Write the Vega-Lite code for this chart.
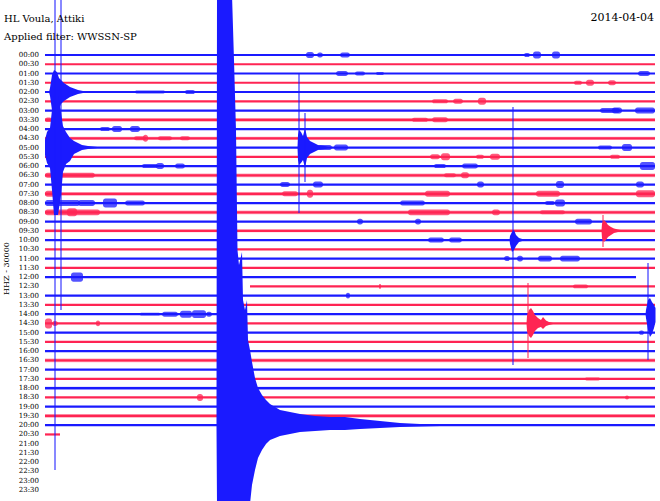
{
  "$schema": "https://vega.github.io/schema/vega-lite/v6.json",
  "width": 660,
  "height": 501,
  "autosize": {"type": "fit", "contains": "padding"},
  "padding": 0,
  "background": "white",
  "config": {"view": {"stroke": null}},
  "datasets": {
    "labels": [
      {"t":0,"lab":"00:00"},{"t":1,"lab":"00:30"},{"t":2,"lab":"01:00"},{"t":3,"lab":"01:30"},
      {"t":4,"lab":"02:00"},{"t":5,"lab":"02:30"},{"t":6,"lab":"03:00"},{"t":7,"lab":"03:30"},
      {"t":8,"lab":"04:00"},{"t":9,"lab":"04:30"},{"t":10,"lab":"05:00"},{"t":11,"lab":"05:30"},
      {"t":12,"lab":"06:00"},{"t":13,"lab":"06:30"},{"t":14,"lab":"07:00"},{"t":15,"lab":"07:30"},
      {"t":16,"lab":"08:00"},{"t":17,"lab":"08:30"},{"t":18,"lab":"09:00"},{"t":19,"lab":"09:30"},
      {"t":20,"lab":"10:00"},{"t":21,"lab":"10:30"},{"t":22,"lab":"11:00"},{"t":23,"lab":"11:30"},
      {"t":24,"lab":"12:00"},{"t":25,"lab":"12:30"},{"t":26,"lab":"13:00"},{"t":27,"lab":"13:30"},
      {"t":28,"lab":"14:00"},{"t":29,"lab":"14:30"},{"t":30,"lab":"15:00"},{"t":31,"lab":"15:30"},
      {"t":32,"lab":"16:00"},{"t":33,"lab":"16:30"},{"t":34,"lab":"17:00"},{"t":35,"lab":"17:30"},
      {"t":36,"lab":"18:00"},{"t":37,"lab":"18:30"},{"t":38,"lab":"19:00"},{"t":39,"lab":"19:30"},
      {"t":40,"lab":"20:00"},{"t":41,"lab":"20:30"},{"t":42,"lab":"21:00"},{"t":43,"lab":"21:30"},
      {"t":44,"lab":"22:00"},{"t":45,"lab":"22:30"},{"t":46,"lab":"23:00"},{"t":47,"lab":"23:30"}
    ],
    "lines": [
      {"t":0,"c":"b","x0":0,"x1":30},{"t":1,"c":"r","x0":0,"x1":30},{"t":2,"c":"b","x0":0,"x1":30},
      {"t":3,"c":"r","x0":0,"x1":30},{"t":4,"c":"b","x0":0,"x1":30},{"t":5,"c":"r","x0":0,"x1":30},
      {"t":6,"c":"b","x0":0,"x1":30},{"t":7,"c":"r","x0":0,"x1":30},{"t":8,"c":"b","x0":0,"x1":30},
      {"t":9,"c":"r","x0":0,"x1":30},{"t":10,"c":"b","x0":0,"x1":30},{"t":11,"c":"r","x0":0,"x1":30},
      {"t":12,"c":"b","x0":0,"x1":30},{"t":13,"c":"r","x0":0,"x1":30},{"t":14,"c":"b","x0":0,"x1":30},
      {"t":15,"c":"r","x0":0,"x1":30},{"t":16,"c":"b","x0":0,"x1":30},{"t":17,"c":"r","x0":0,"x1":30},
      {"t":18,"c":"b","x0":0,"x1":30},{"t":19,"c":"r","x0":0,"x1":30},{"t":20,"c":"b","x0":0,"x1":30},
      {"t":21,"c":"r","x0":0,"x1":30},{"t":22,"c":"b","x0":0,"x1":30},{"t":23,"c":"r","x0":0,"x1":30},
      {"t":24,"c":"b","x0":0,"x1":29.066},{"t":25,"c":"r","x0":10.082,"x1":30},{"t":26,"c":"b","x0":0,"x1":30},
      {"t":27,"c":"r","x0":0,"x1":30},{"t":28,"c":"b","x0":0,"x1":30},{"t":29,"c":"r","x0":0,"x1":30},
      {"t":30,"c":"b","x0":0,"x1":30},{"t":31,"c":"r","x0":0,"x1":30},{"t":32,"c":"b","x0":0,"x1":30},
      {"t":33,"c":"r","x0":0,"x1":30},{"t":34,"c":"b","x0":0,"x1":30},{"t":35,"c":"r","x0":0,"x1":30},
      {"t":36,"c":"b","x0":0,"x1":30},{"t":37,"c":"r","x0":0,"x1":30},{"t":38,"c":"b","x0":0,"x1":30},
      {"t":39,"c":"r","x0":0,"x1":30},{"t":40,"c":"b","x0":0,"x1":30},{"t":41,"c":"r","x0":0,"x1":0.738}
    ],
    "noise": [
      {"c":"r","x0":0,"x1":30,"lo":6.8,"hi":7.2},
      {"c":"r","x0":0,"x1":30,"lo":8.84,"hi":9.16},
      {"c":"r","x0":0,"x1":30,"lo":12.8,"hi":13.2},
      {"c":"r","x0":0,"x1":30,"lo":14.8,"hi":15.2},
      {"c":"r","x0":0,"x1":30,"lo":16.8,"hi":17.2},
      {"c":"r","x0":0,"x1":30,"lo":18.84,"hi":19.16},
      {"c":"r","x0":0,"x1":30,"lo":32.8,"hi":33.2},
      {"c":"b","x0":0,"x1":30,"lo":35.84,"hi":36.16},
      {"c":"r","x0":0,"x1":30,"lo":38.8,"hi":39.2}
    ],
    "bursts": [
      {"c":"b","x0":12.836,"x1":13.23,"lo":-0.32,"hi":0.32},{"c":"b","x0":13.377,"x1":13.672,"lo":-0.27,"hi":0.27},
      {"c":"b","x0":14.508,"x1":15.0,"lo":-0.27,"hi":0.27},{"c":"b","x0":23.557,"x1":23.852,"lo":-0.22,"hi":0.22},
      {"c":"b","x0":24.0,"x1":24.393,"lo":-0.38,"hi":0.38},{"c":"b","x0":24.934,"x1":25.328,"lo":-0.38,"hi":0.38},
      {"c":"b","x0":14.311,"x1":14.902,"lo":1.73,"hi":2.27},{"c":"b","x0":15.246,"x1":15.738,"lo":1.78,"hi":2.22},
      {"c":"b","x0":16.279,"x1":16.672,"lo":1.84,"hi":2.16},{"c":"b","x0":29.164,"x1":29.754,"lo":1.73,"hi":2.27},
      {"c":"r","x0":26.016,"x1":26.41,"lo":2.78,"hi":3.22},{"c":"r","x0":26.607,"x1":27.0,"lo":2.68,"hi":3.32},
      {"c":"r","x0":27.688,"x1":28.082,"lo":2.73,"hi":3.27},
      {"c":"b","x0":4.426,"x1":5.902,"lo":3.84,"hi":4.16},{"c":"b","x0":6.885,"x1":7.377,"lo":3.78,"hi":4.22},
      {"c":"r","x0":19.033,"x1":19.82,"lo":4.78,"hi":5.22},{"c":"r","x0":20.066,"x1":20.557,"lo":4.73,"hi":5.27},
      {"c":"r","x0":21.295,"x1":21.689,"lo":4.62,"hi":5.38},
      {"c":"b","x0":27.295,"x1":28.279,"lo":5.73,"hi":6.27},{"c":"b","x0":27.885,"x1":28.377,"lo":5.68,"hi":6.32},
      {"c":"b","x0":29.016,"x1":30.0,"lo":5.68,"hi":6.32},
      {"c":"r","x0":0,"x1":0.35,"lo":6.75,"hi":7.25},{"c":"r","x0":18.049,"x1":18.836,"lo":6.78,"hi":7.22},
      {"c":"r","x0":19.033,"x1":19.82,"lo":6.73,"hi":7.27},
      {"c":"b","x0":2.705,"x1":3.197,"lo":7.78,"hi":8.22},{"c":"b","x0":3.295,"x1":3.787,"lo":7.68,"hi":8.32},
      {"c":"b","x0":4.18,"x1":4.672,"lo":7.68,"hi":8.32},
      {"c":"r","x0":4.377,"x1":4.967,"lo":8.78,"hi":9.22},{"c":"r","x0":4.82,"x1":5.066,"lo":8.62,"hi":9.38},
      {"c":"r","x0":5.557,"x1":6.246,"lo":8.78,"hi":9.22},{"c":"r","x0":6.639,"x1":7.131,"lo":8.78,"hi":9.22},
      {"c":"b","x0":13.426,"x1":14.115,"lo":9.73,"hi":10.27},{"c":"b","x0":14.213,"x1":14.902,"lo":9.68,"hi":10.32},
      {"c":"b","x0":27.197,"x1":27.885,"lo":9.78,"hi":10.22},{"c":"b","x0":28.377,"x1":28.869,"lo":9.62,"hi":10.38},
      {"c":"r","x0":18.934,"x1":19.426,"lo":10.73,"hi":11.27},{"c":"r","x0":19.475,"x1":19.918,"lo":10.62,"hi":11.38},
      {"c":"r","x0":21.197,"x1":21.59,"lo":10.78,"hi":11.22},{"c":"r","x0":21.885,"x1":22.377,"lo":10.68,"hi":11.32},
      {"c":"r","x0":27.787,"x1":28.279,"lo":10.78,"hi":11.22},
      {"c":"b","x0":4.77,"x1":5.557,"lo":11.78,"hi":12.22},{"c":"b","x0":5.459,"x1":5.852,"lo":11.68,"hi":12.32},
      {"c":"b","x0":6.393,"x1":6.885,"lo":11.73,"hi":12.27},{"c":"b","x0":19.131,"x1":19.721,"lo":11.78,"hi":12.22},
      {"c":"b","x0":20.508,"x1":21.295,"lo":11.73,"hi":12.27},{"c":"b","x0":29.262,"x1":30.0,"lo":11.57,"hi":12.43},
      {"c":"r","x0":0,"x1":2.459,"lo":12.73,"hi":13.27},{"c":"r","x0":19.623,"x1":20.213,"lo":12.78,"hi":13.22},
      {"c":"r","x0":20.459,"x1":20.852,"lo":12.68,"hi":13.32},
      {"c":"b","x0":11.557,"x1":12.049,"lo":13.73,"hi":14.27},{"c":"b","x0":13.18,"x1":13.672,"lo":13.68,"hi":14.32},
      {"c":"b","x0":21.246,"x1":21.59,"lo":13.68,"hi":14.32},{"c":"b","x0":25.131,"x1":25.525,"lo":13.62,"hi":14.38},
      {"c":"b","x0":29.066,"x1":29.459,"lo":13.68,"hi":14.32},
      {"c":"r","x0":0,"x1":0.738,"lo":14.68,"hi":15.32},{"c":"r","x0":11.656,"x1":12.443,"lo":14.73,"hi":15.27},
      {"c":"r","x0":12.885,"x1":13.18,"lo":14.57,"hi":15.43},{"c":"r","x0":18.689,"x1":19.918,"lo":14.68,"hi":15.32},
      {"c":"r","x0":24.148,"x1":25.328,"lo":14.68,"hi":15.32},{"c":"r","x0":29.066,"x1":30.0,"lo":14.62,"hi":15.38},
      {"c":"b","x0":0,"x1":1.721,"lo":15.68,"hi":16.32},{"c":"b","x0":1.623,"x1":2.459,"lo":15.68,"hi":16.32},
      {"c":"b","x0":2.852,"x1":3.541,"lo":15.51,"hi":16.49},{"c":"b","x0":3.934,"x1":4.918,"lo":15.73,"hi":16.27},
      {"c":"b","x0":17.459,"x1":18.689,"lo":15.73,"hi":16.27},{"c":"b","x0":24.59,"x1":25.082,"lo":15.78,"hi":16.22},
      {"c":"b","x0":25.082,"x1":25.574,"lo":15.62,"hi":16.38},
      {"c":"r","x0":0,"x1":2.705,"lo":16.68,"hi":17.32},{"c":"r","x0":1.082,"x1":1.574,"lo":16.57,"hi":17.43},
      {"c":"r","x0":17.852,"x1":19.918,"lo":16.68,"hi":17.32},{"c":"r","x0":21.984,"x1":22.377,"lo":16.68,"hi":17.32},
      {"c":"r","x0":24.344,"x1":25.574,"lo":16.78,"hi":17.22},
      {"c":"b","x0":15.344,"x1":15.639,"lo":17.68,"hi":18.32},{"c":"b","x0":18.197,"x1":18.492,"lo":17.68,"hi":18.32},
      {"c":"b","x0":26.066,"x1":26.902,"lo":17.68,"hi":18.32},
      {"c":"b","x0":18.836,"x1":19.623,"lo":19.73,"hi":20.27},{"c":"b","x0":19.869,"x1":20.508,"lo":19.73,"hi":20.27},
      {"c":"b","x0":22.574,"x1":22.869,"lo":21.73,"hi":22.27},{"c":"b","x0":23.213,"x1":23.508,"lo":21.68,"hi":22.32},
      {"c":"b","x0":24.246,"x1":24.934,"lo":21.68,"hi":22.32},{"c":"b","x0":25.328,"x1":26.311,"lo":21.68,"hi":22.32},
      {"c":"b","x0":1.279,"x1":1.869,"lo":23.51,"hi":24.49},
      {"c":"r","x0":16.426,"x1":16.525,"lo":24.73,"hi":25.27},{"c":"r","x0":25.967,"x1":26.705,"lo":24.8,"hi":25.2},
      {"c":"b","x0":14.803,"x1":15.0,"lo":25.68,"hi":26.32},
      {"c":"b","x0":4.672,"x1":5.656,"lo":27.84,"hi":28.16},{"c":"b","x0":5.754,"x1":6.541,"lo":27.73,"hi":28.27},
      {"c":"b","x0":6.639,"x1":7.23,"lo":27.62,"hi":28.38},{"c":"b","x0":7.23,"x1":7.918,"lo":27.57,"hi":28.43},
      {"c":"b","x0":7.918,"x1":8.213,"lo":27.73,"hi":28.27},
      {"c":"r","x0":0,"x1":0.344,"lo":28.46,"hi":29.54},{"c":"r","x0":0.344,"x1":0.639,"lo":28.73,"hi":29.27},
      {"c":"r","x0":2.508,"x1":2.705,"lo":28.68,"hi":29.32},
      {"c":"b","x0":29.213,"x1":29.459,"lo":29.78,"hi":30.22},
      {"c":"r","x0":26.557,"x1":27.295,"lo":34.84,"hi":35.16},
      {"c":"r","x0":7.475,"x1":7.77,"lo":36.62,"hi":37.38},{"c":"r","x0":28.525,"x1":28.721,"lo":36.78,"hi":37.22}
    ],
    "quakes": [
      {"q":"A","c":"b","x":8.434,"lo":40,"hi":40},{"q":"A","c":"b","x":8.459,"lo":-6.5,"hi":48.5},
      {"q":"A","c":"b","x":9.197,"lo":-6.5,"hi":48.5},{"q":"A","c":"b","x":9.295,"lo":0.54,"hi":48.5},
      {"q":"A","c":"b","x":9.393,"lo":8.1,"hi":48.5},{"q":"A","c":"b","x":9.467,"lo":21.07,"hi":48.5},
      {"q":"A","c":"b","x":9.541,"lo":22.69,"hi":48.5},{"q":"A","c":"b","x":9.689,"lo":21.29,"hi":48.5},
      {"q":"A","c":"b","x":9.738,"lo":26.47,"hi":48.5},{"q":"A","c":"b","x":9.836,"lo":27.55,"hi":48.5},
      {"q":"A","c":"b","x":9.934,"lo":26.47,"hi":48.5},{"q":"A","c":"b","x":9.984,"lo":30.79,"hi":48.5},
      {"q":"A","c":"b","x":10.082,"lo":31.87,"hi":48.5},{"q":"A","c":"b","x":10.18,"lo":33.17,"hi":46.46},
      {"q":"A","c":"b","x":10.328,"lo":34.9,"hi":44.84},{"q":"A","c":"b","x":10.475,"lo":35.98,"hi":43.54},
      {"q":"A","c":"b","x":10.672,"lo":36.74,"hi":42.68},{"q":"A","c":"b","x":10.869,"lo":37.28,"hi":42.03},
      {"q":"A","c":"b","x":11.066,"lo":37.71,"hi":41.6},{"q":"A","c":"b","x":11.312,"lo":38.03,"hi":41.38},
      {"q":"A","c":"b","x":11.557,"lo":38.36,"hi":41.17},{"q":"A","c":"b","x":12.049,"lo":38.57,"hi":40.95},
      {"q":"A","c":"b","x":12.541,"lo":38.79,"hi":40.73},{"q":"A","c":"b","x":13.279,"lo":39.01,"hi":40.63},
      {"q":"A","c":"b","x":14.016,"lo":39.11,"hi":40.52},{"q":"A","c":"b","x":14.754,"lo":39.11,"hi":40.52},
      {"q":"A","c":"b","x":15.492,"lo":39.33,"hi":40.41},{"q":"A","c":"b","x":16.475,"lo":39.55,"hi":40.3},
      {"q":"A","c":"b","x":17.459,"lo":39.76,"hi":40.19},{"q":"A","c":"b","x":18.443,"lo":39.87,"hi":40.14},
      {"q":"A","c":"b","x":19.426,"lo":39.92,"hi":40.09},
      {"q":"B","c":"b","x":0.197,"lo":4,"hi":4},{"q":"B","c":"b","x":0.246,"lo":3.57,"hi":4.43},
      {"q":"B","c":"b","x":0.344,"lo":2.16,"hi":5.94},{"q":"B","c":"b","x":0.443,"lo":1.62,"hi":7.89},
      {"q":"B","c":"b","x":0.59,"lo":1.84,"hi":7.89},{"q":"B","c":"b","x":0.689,"lo":2.49,"hi":5.94},
      {"q":"B","c":"b","x":0.787,"lo":2.7,"hi":5.29},{"q":"B","c":"b","x":0.934,"lo":3.03,"hi":4.97},
      {"q":"B","c":"b","x":1.082,"lo":3.24,"hi":4.75},{"q":"B","c":"b","x":1.23,"lo":3.46,"hi":4.54},
      {"q":"B","c":"b","x":1.426,"lo":3.62,"hi":4.38},{"q":"B","c":"b","x":1.623,"lo":3.78,"hi":4.21},
      {"q":"B","c":"b","x":1.869,"lo":3.89,"hi":4.11},{"q":"B","c":"b","x":2.213,"lo":3.94,"hi":4.05},
      {"q":"B","c":"b","x":2.5,"lo":4,"hi":4},
      {"q":"C","c":"b","x":0,"lo":9.18,"hi":10.8},{"q":"C","c":"b","x":0.098,"lo":8.32,"hi":11.67},
      {"q":"C","c":"b","x":0.246,"lo":7.89,"hi":12.21},{"q":"C","c":"b","x":0.344,"lo":5.94,"hi":14.59},
      {"q":"C","c":"b","x":0.443,"lo":4.32,"hi":17.29},{"q":"C","c":"b","x":0.639,"lo":4.32,"hi":17.29},
      {"q":"C","c":"b","x":0.787,"lo":6.16,"hi":15.13},{"q":"C","c":"b","x":0.885,"lo":7.67,"hi":12.64},
      {"q":"C","c":"b","x":1.033,"lo":8.32,"hi":11.78},{"q":"C","c":"b","x":1.23,"lo":8.97,"hi":11.45},
      {"q":"C","c":"b","x":1.426,"lo":9.29,"hi":10.7},{"q":"C","c":"b","x":1.623,"lo":9.51,"hi":10.48},
      {"q":"C","c":"b","x":1.82,"lo":9.72,"hi":10.26},{"q":"C","c":"b","x":2.115,"lo":9.83,"hi":10.16},
      {"q":"C","c":"b","x":2.459,"lo":9.92,"hi":10.08},{"q":"C","c":"b","x":2.8,"lo":10,"hi":10},
      {"q":"D","c":"b","x":12.418,"lo":10,"hi":10},{"q":"D","c":"b","x":12.443,"lo":8.64,"hi":11.35},
      {"q":"D","c":"b","x":12.492,"lo":8.1,"hi":11.89},{"q":"D","c":"b","x":12.59,"lo":8.32,"hi":11.67},
      {"q":"D","c":"b","x":12.689,"lo":8.75,"hi":11.35},{"q":"D","c":"b","x":12.787,"lo":7.89,"hi":12.21},
      {"q":"D","c":"b","x":12.885,"lo":8.86,"hi":11.13},{"q":"D","c":"b","x":13.033,"lo":9.29,"hi":10.7},
      {"q":"D","c":"b","x":13.23,"lo":9.51,"hi":10.48},{"q":"D","c":"b","x":13.426,"lo":9.72,"hi":10.26},
      {"q":"D","c":"b","x":13.77,"lo":9.83,"hi":10.16},{"q":"D","c":"b","x":14.0,"lo":10,"hi":10},
      {"q":"E","c":"r","x":27.369,"lo":19,"hi":19},{"q":"E","c":"r","x":27.393,"lo":18.26,"hi":19.77},
      {"q":"E","c":"r","x":27.492,"lo":17.83,"hi":20.2},{"q":"E","c":"r","x":27.59,"lo":18.04,"hi":19.99},
      {"q":"E","c":"r","x":27.689,"lo":18.37,"hi":19.66},{"q":"E","c":"r","x":27.836,"lo":18.58,"hi":19.45},
      {"q":"E","c":"r","x":27.984,"lo":18.75,"hi":19.23},{"q":"E","c":"r","x":28.18,"lo":18.85,"hi":19.12},
      {"q":"E","c":"r","x":28.377,"lo":18.94,"hi":19.06},{"q":"E","c":"r","x":28.6,"lo":19,"hi":19},
      {"q":"F","c":"b","x":22.845,"lo":20,"hi":20},{"q":"F","c":"b","x":22.869,"lo":19.56,"hi":20.42},
      {"q":"F","c":"b","x":22.967,"lo":19.12,"hi":21.29},{"q":"F","c":"b","x":23.066,"lo":18.91,"hi":21.07},
      {"q":"F","c":"b","x":23.164,"lo":19.45,"hi":20.64},{"q":"F","c":"b","x":23.311,"lo":19.77,"hi":20.21},
      {"q":"F","c":"b","x":23.508,"lo":19.92,"hi":20.08},{"q":"F","c":"b","x":23.7,"lo":20,"hi":20},
      {"q":"G","c":"r","x":23.68,"lo":29,"hi":29},{"q":"G","c":"r","x":23.705,"lo":28.2,"hi":29.82},
      {"q":"G","c":"r","x":23.803,"lo":27.55,"hi":30.36},{"q":"G","c":"r","x":23.902,"lo":27.34,"hi":30.58},
      {"q":"G","c":"r","x":24.0,"lo":27.66,"hi":30.25},{"q":"G","c":"r","x":24.098,"lo":28.09,"hi":29.82},
      {"q":"G","c":"r","x":24.246,"lo":28.42,"hi":29.5},{"q":"G","c":"r","x":24.393,"lo":28.63,"hi":29.39},
      {"q":"G","c":"r","x":24.492,"lo":28.31,"hi":29.61},{"q":"G","c":"r","x":24.639,"lo":28.69,"hi":29.28},
      {"q":"G","c":"r","x":24.787,"lo":28.85,"hi":29.17},{"q":"G","c":"r","x":24.984,"lo":28.96,"hi":29.06},
      {"q":"G","c":"r","x":25.2,"lo":29,"hi":29},
      {"q":"H","c":"b","x":29.533,"lo":28,"hi":28},{"q":"H","c":"b","x":29.557,"lo":27.55,"hi":28.42},
      {"q":"H","c":"b","x":29.656,"lo":26.47,"hi":29.71},{"q":"H","c":"b","x":29.754,"lo":26.25,"hi":30.47},
      {"q":"H","c":"b","x":29.852,"lo":26.69,"hi":30.14},{"q":"H","c":"b","x":29.951,"lo":27.01,"hi":29.5},
      {"q":"H","c":"b","x":30.025,"lo":27.34,"hi":28.85}
    ],
    "spikes": [
      {"c":"b","x":0.492,"lo":-6.5,"hi":44.84},
      {"c":"b","x":0.787,"lo":-6.5,"hi":27.55},
      {"c":"b","x":12.492,"lo":1.94,"hi":17.07},
      {"c":"b","x":12.787,"lo":6.27,"hi":13.72},
      {"c":"b","x":23.016,"lo":5.62,"hi":33.5},
      {"c":"r","x":23.754,"lo":24.64,"hi":32.74},
      {"c":"r","x":27.443,"lo":17.29,"hi":20.75},
      {"c":"b","x":29.656,"lo":22.47,"hi":32.96}
    ]
  },
  "layer": [
    {
      "data": {"name": "noise"},
      "mark": {"type": "rect", "opacity": 0.4, "clip": true},
      "encoding": {
        "x": {"field": "x0", "type": "quantitative", "scale": {"domain": [-2.2131, 30.2459], "nice": false, "zero": false}, "axis": null},
        "x2": {"field": "x1"},
        "y": {"field": "lo", "type": "quantitative", "scale": {"domain": [-5.943, 48.19], "reverse": true, "nice": false, "zero": false}, "axis": null},
        "y2": {"field": "hi"},
        "color": {"field": "c", "type": "nominal", "scale": {"domain": ["b", "r"], "range": ["#1a1aff", "#ff2453"]}, "legend": null}
      }
    },
    {
      "data": {"name": "lines"},
      "mark": {"type": "rule", "strokeWidth": 2.2, "clip": true},
      "encoding": {
        "x": {"field": "x0", "type": "quantitative", "scale": {"domain": [-2.2131, 30.2459], "nice": false, "zero": false}, "axis": null},
        "x2": {"field": "x1"},
        "y": {"field": "t", "type": "quantitative", "scale": {"domain": [-5.943, 48.19], "reverse": true, "nice": false, "zero": false}, "axis": null},
        "color": {"field": "c", "type": "nominal", "scale": {"domain": ["b", "r"], "range": ["#1a1aff", "#ff2453"]}, "legend": null}
      }
    },
    {
      "data": {"name": "bursts"},
      "mark": {"type": "rect", "opacity": 0.75, "cornerRadius": 2.5, "clip": true},
      "encoding": {
        "x": {"field": "x0", "type": "quantitative", "scale": {"domain": [-2.2131, 30.2459], "nice": false, "zero": false}, "axis": null},
        "x2": {"field": "x1"},
        "y": {"field": "lo", "type": "quantitative", "scale": {"domain": [-5.943, 48.19], "reverse": true, "nice": false, "zero": false}, "axis": null},
        "y2": {"field": "hi"},
        "color": {"field": "c", "type": "nominal", "scale": {"domain": ["b", "r"], "range": ["#1a1aff", "#ff2453"]}, "legend": null}
      }
    },
    {
      "data": {"name": "quakes"},
      "mark": {"type": "area", "clip": true, "opacity": 1},
      "encoding": {
        "x": {"field": "x", "type": "quantitative", "scale": {"domain": [-2.2131, 30.2459], "nice": false, "zero": false}, "axis": null},
        "y": {"field": "lo", "type": "quantitative", "scale": {"domain": [-5.943, 48.19], "reverse": true, "nice": false, "zero": false}, "axis": null},
        "y2": {"field": "hi"},
        "detail": {"field": "q", "type": "nominal"},
        "color": {"field": "c", "type": "nominal", "scale": {"domain": ["b", "r"], "range": ["#1a1aff", "#ff2453"]}, "legend": null}
      }
    },
    {
      "data": {"name": "spikes"},
      "mark": {"type": "rule", "strokeWidth": 1.3, "opacity": 0.8, "clip": true},
      "encoding": {
        "x": {"field": "x", "type": "quantitative", "scale": {"domain": [-2.2131, 30.2459], "nice": false, "zero": false}, "axis": null},
        "y": {"field": "lo", "type": "quantitative", "scale": {"domain": [-5.943, 48.19], "reverse": true, "nice": false, "zero": false}, "axis": null},
        "y2": {"field": "hi"},
        "color": {"field": "c", "type": "nominal", "scale": {"domain": ["b", "r"], "range": ["#1a1aff", "#ff2453"]}, "legend": null}
      }
    },
    {
      "data": {"name": "labels"},
      "mark": {"type": "text", "align": "right", "baseline": "middle", "font": "DejaVu Serif", "fontSize": 7, "color": "#000000"},
      "encoding": {
        "x": {"datum": -0.295, "type": "quantitative", "scale": {"domain": [-2.2131, 30.2459], "nice": false, "zero": false}, "axis": null},
        "y": {"field": "t", "type": "quantitative", "scale": {"domain": [-5.943, 48.19], "reverse": true, "nice": false, "zero": false}, "axis": null},
        "text": {"field": "lab"}
      }
    },
    {
      "data": {"values": [{}]},
      "mark": {"type": "text", "text": "HL Voula, Attiki", "align": "left", "baseline": "alphabetic", "font": "DejaVu Serif", "fontSize": 10, "color": "#000000"},
      "encoding": {
        "x": {"datum": -2.016, "type": "quantitative", "scale": {"domain": [-2.2131, 30.2459], "nice": false, "zero": false}, "axis": null},
        "y": {"datum": -3.512, "type": "quantitative", "scale": {"domain": [-5.943, 48.19], "reverse": true, "nice": false, "zero": false}, "axis": null}
      }
    },
    {
      "data": {"values": [{}]},
      "mark": {"type": "text", "text": "Applied filter: WWSSN-SP", "align": "left", "baseline": "alphabetic", "font": "DejaVu Serif", "fontSize": 10, "color": "#000000"},
      "encoding": {
        "x": {"datum": -2.016, "type": "quantitative", "scale": {"domain": [-2.2131, 30.2459], "nice": false, "zero": false}, "axis": null},
        "y": {"datum": -1.675, "type": "quantitative", "scale": {"domain": [-5.943, 48.19], "reverse": true, "nice": false, "zero": false}, "axis": null}
      }
    },
    {
      "data": {"values": [{}]},
      "mark": {"type": "text", "text": "2014-04-04", "align": "right", "baseline": "alphabetic", "font": "DejaVu Serif", "fontSize": 11, "color": "#000000"},
      "encoding": {
        "x": {"datum": 29.951, "type": "quantitative", "scale": {"domain": [-2.2131, 30.2459], "nice": false, "zero": false}, "axis": null},
        "y": {"datum": -3.641, "type": "quantitative", "scale": {"domain": [-5.943, 48.19], "reverse": true, "nice": false, "zero": false}, "axis": null}
      }
    },
    {
      "data": {"values": [{}]},
      "mark": {"type": "text", "text": "HHZ  -  30000", "align": "center", "baseline": "middle", "angle": 270, "font": "DejaVu Serif", "fontSize": 8, "color": "#000000"},
      "encoding": {
        "x": {"datum": -1.869, "type": "quantitative", "scale": {"domain": [-2.2131, 30.2459], "nice": false, "zero": false}, "axis": null},
        "y": {"datum": 23.07, "type": "quantitative", "scale": {"domain": [-5.943, 48.19], "reverse": true, "nice": false, "zero": false}, "axis": null}
      }
    }
  ]
}
